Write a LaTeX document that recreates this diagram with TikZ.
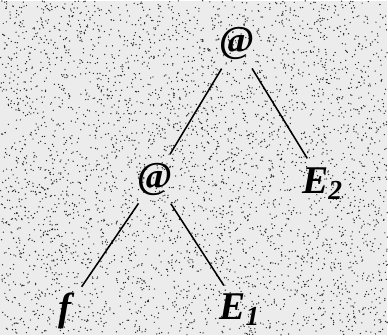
\documentclass[tikz,border=0pt]{standalone}
\usepackage{fontspec}
\setmainfont{Liberation Serif}
\usetikzlibrary{positioning}

\begin{document}
\begin{tikzpicture}[
    app/.style={font=\fontsize{27}{27}\selectfont\bfseries, circle, inner sep=0pt, minimum size=1.45cm},
    leaf/.style={font=\fontsize{28}{28}\selectfont\bfseries\itshape, circle, inner sep=0pt, minimum size=1.45cm},
    branch/.style={line width=1.1pt}
]
    % Stippled background
    \fill[gray!15] (0,0) rectangle (9.7,8.375);
    \pgfmathsetseed{42}
    \foreach \i in {1,...,4200} {
        \pgfmathsetmacro{\x}{4.85+4.85*rand}
        \pgfmathsetmacro{\y}{4.1875+4.1875*rand}
        \fill[black!85] (\x,\y) circle (0.5pt);
    }
    \useasboundingbox (0,0) rectangle (9.7,8.375);

    % Application nodes
    \node[app] (root) at (5.925,7.3) {@};
    \node[app] (inner) at (3.875,3.9) {@};
    % Leaves
    \node[leaf] (arg2) at (8.075,3.8) {E\textsubscript{2}};
    \node[leaf] (fun) at (1.625,0.6) {f};
    \node[leaf] (arg1) at (6.0,0.625) {E\textsubscript{1}};

    % Branches
    \draw[branch] (root) -- (inner);
    \draw[branch] (root) -- (arg2);
    \draw[branch] (inner) -- (fun);
    \draw[branch] (inner) -- (arg1);
\end{tikzpicture}
\end{document}
